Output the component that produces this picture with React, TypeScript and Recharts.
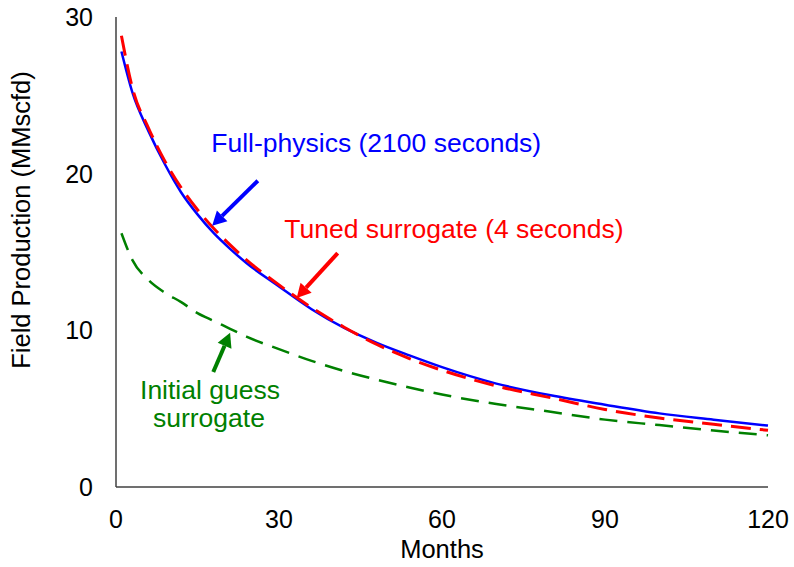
import React from "react";
import {
  LineChart,
  Line,
  XAxis,
  YAxis,
  ReferenceLine,
  ReferenceDot,
} from "recharts";

// ── Data ──
const months = [1, 3, 6, 9, 12, 15, 18, 21, 24, 30, 36, 42, 48, 54, 60, 70, 80, 90, 100, 110, 120];
const fullPhysics = [27.8, 25.2, 22.7, 20.6, 18.8, 17.4, 16.2, 15.2, 14.3, 12.8, 11.35, 10.15, 9.2, 8.4, 7.65, 6.6, 5.85, 5.25, 4.7, 4.3, 3.92];
const tunedSurrogate = [28.8, 25.5, 22.9, 20.8, 19.1, 17.7, 16.5, 15.45, 14.5, 12.9, 11.45, 10.2, 9.1, 8.2, 7.45, 6.45, 5.7, 4.95, 4.4, 4.0, 3.62];
const initialGuess = [16.2, 14.5, 13.2, 12.4, 11.8, 11.1, 10.6, 10.1, 9.6, 8.8, 8.05, 7.4, 6.85, 6.35, 5.9, 5.3, 4.8, 4.3, 3.95, 3.6, 3.3];

const xTicks = [0, 30, 60, 90, 120];
const yTicks = [0, 10, 20, 30];

// annotation arrows: [tail, tip] in data units (month, MMscfd)
const blueArrow = [{ x: 26.1, y: 19.55 }, { x: 17.7, y: 16.68 }];
const redArrow = [{ x: 40.8, y: 14.93 }, { x: 33.25, y: 12.06 }];
const greenArrow = [{ x: 17.9, y: 7.34 }, { x: 21.0, y: 9.84 }];

const notes = [
  { x: 47.9, y: 21.96, text: "Full-physics (2100 seconds)", color: "#0000ff" },
  { x: 62.2, y: 16.49, text: "Tuned surrogate (4 seconds)", color: "#ff0000" },
  { x: 17.3, y: 6.2, text: "Initial guess", color: "#008000" },
  { x: 17.1, y: 4.4, text: "surrogate", color: "#008000" },
];

const data = months.map((m, i) => ({
  month: m,
  full: fullPhysics[i],
  tuned: tunedSurrogate[i],
  initial: initialGuess[i],
}));

const FONT = "'Liberation Sans', Arial, sans-serif";
const AXIS = "#404040";

// line with a filled arrowhead at (x2, y2)
const arrowShape = (color: string) => (props: any) => {
  const { x1, y1, x2, y2 } = props;
  const ang = Math.atan2(y2 - y1, x2 - x1);
  const len = 14;
  const half = 7.5;
  const bx = x2 - len * Math.cos(ang);
  const by = y2 - len * Math.sin(ang);
  const px = -Math.sin(ang) * half;
  const py = Math.cos(ang) * half;
  return (
    <g>
      <line x1={x1} y1={y1} x2={bx} y2={by} stroke={color} strokeWidth={4} />
      <polygon
        points={`${x2},${y2} ${bx + px},${by + py} ${bx - px},${by - py}`}
        fill={color}
      />
    </g>
  );
};

export default function App() {
  return (
    <div style={{ width: 794, height: 567, background: "#fff" }}>
      <style>{`body{margin:0;}`}</style>
      <LineChart
        width={794}
        height={567}
        data={data}
        margin={{ top: 17, right: 26, left: 0, bottom: 0 }}
        style={{ fontFamily: FONT }}
      >
        <XAxis
          dataKey="month"
          type="number"
          domain={[0, 120]}
          ticks={xTicks}
          height={80}
          tickLine={false}
          tickSize={0}
          tickMargin={23}
          axisLine={{ stroke: AXIS, strokeWidth: 1.5 }}
          tick={{ fill: "#000", fontSize: 25, fontFamily: FONT }}
          label={{
            value: "Months",
            position: "insideBottom",
            offset: 9,
            fill: "#000",
            fontSize: 25.5,
            fontFamily: FONT,
          }}
        />
        <YAxis
          type="number"
          domain={[0, 30]}
          ticks={yTicks}
          width={116}
          tickLine={false}
          tickSize={0}
          tickMargin={23}
          axisLine={{ stroke: AXIS, strokeWidth: 1.5 }}
          tick={{ fill: "#000", fontSize: 25, fontFamily: FONT }}
          label={{
            value: "Field Production (MMscfd)",
            angle: -90,
            position: "insideLeft",
            offset: 21,
            dy: -32,
            fill: "#000",
            fontSize: 25.5,
            fontFamily: FONT,
            style: { textAnchor: "middle" },
          }}
        />
        <Line
          dataKey="initial"
          type="monotone"
          stroke="#008000"
          strokeWidth={2.5}
          strokeDasharray="18 10"
          dot={false}
          isAnimationActive={false}
        />
        <Line
          dataKey="full"
          type="monotone"
          stroke="#0000ff"
          strokeWidth={2.5}
          dot={false}
          isAnimationActive={false}
        />
        <Line
          dataKey="tuned"
          type="monotone"
          stroke="#ff0000"
          strokeWidth={3}
          strokeDasharray="20 9"
          dot={false}
          isAnimationActive={false}
        />
        <ReferenceLine segment={blueArrow} shape={arrowShape("#0000ff")} />
        <ReferenceLine segment={redArrow} shape={arrowShape("#ff0000")} />
        <ReferenceLine segment={greenArrow} shape={arrowShape("#008000")} />
        {notes.map((n) => (
          <ReferenceDot
            key={n.text}
            x={n.x}
            y={n.y}
            r={0}
            stroke="none"
            fill="none"
            label={{
              value: n.text,
              position: "center",
              fill: n.color,
              fontSize: 26.5,
              fontFamily: FONT,
            }}
          />
        ))}
      </LineChart>
    </div>
  );
}
